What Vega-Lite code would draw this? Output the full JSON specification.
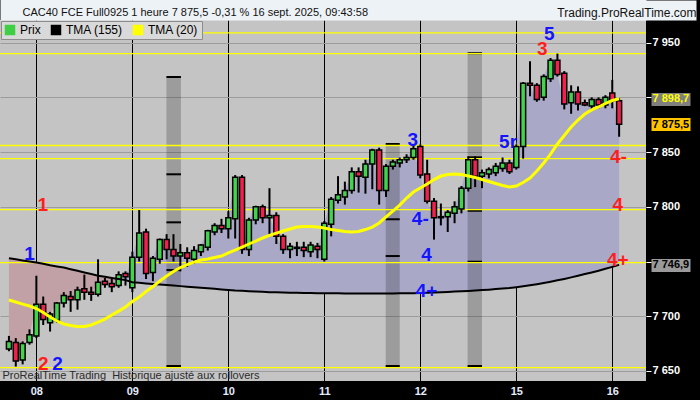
{
  "$schema": "https://vega.github.io/schema/vega-lite/v6.json",
  "width": 646,
  "height": 361,
  "autosize": {"type": "none"},
  "padding": {"left": 0, "top": 20, "right": 54, "bottom": 19},
  "background": "#000000",
  "resolve": {"axis": {"x": "independent"}},
  "config": {
    "view": {"fill": "#c4c4c4", "stroke": null},
    "axis": {"labelFont": "Liberation Sans", "titleFont": "Liberation Sans"}
  },
  "datasets": {
    "k": [
      {"i":0,"o":7670,"h":7682,"l":7668,"c":7677,"m155":7753,"m20":7714.8},
      {"i":1,"o":7676,"h":7680,"l":7654,"c":7659,"m155":7752,"m20":7713},
      {"i":2,"o":7660,"h":7677,"l":7656,"c":7675,"m155":7751,"m20":7711.1},
      {"i":3,"o":7676,"h":7688,"l":7674,"c":7683,"m155":7750,"m20":7709.3},
      {"i":4,"o":7682,"h":7737,"l":7680,"c":7711,"m155":7749,"m20":7707},
      {"i":5,"o":7711,"h":7718,"l":7692,"c":7697,"m155":7748,"m20":7703.4},
      {"i":6,"o":7694,"h":7704,"l":7686,"c":7702,"m155":7746.5,"m20":7699.3},
      {"i":7,"o":7696,"h":7713,"l":7694,"c":7712,"m155":7745.5,"m20":7695.6},
      {"i":8,"o":7712,"h":7722,"l":7708,"c":7719,"m155":7744.5,"m20":7692.9},
      {"i":9,"o":7718,"h":7723,"l":7704,"c":7715,"m155":7743,"m20":7691.5},
      {"i":10,"o":7715,"h":7727,"l":7706,"c":7724,"m155":7741.5,"m20":7690.6},
      {"i":11,"o":7725,"h":7738,"l":7715,"c":7722,"m155":7740,"m20":7690.6},
      {"i":12,"o":7722,"h":7727,"l":7714,"c":7720,"m155":7738.5,"m20":7692},
      {"i":13,"o":7720,"h":7752,"l":7718,"c":7731,"m155":7737,"m20":7694.7},
      {"i":14,"o":7732,"h":7735,"l":7726,"c":7729,"m155":7736,"m20":7697.4},
      {"i":15,"o":7730,"h":7734,"l":7722,"c":7727,"m155":7735,"m20":7701.1},
      {"i":16,"o":7728,"h":7741,"l":7726,"c":7738,"m155":7734,"m20":7704.7},
      {"i":17,"o":7739,"h":7741,"l":7728,"c":7736,"m155":7733,"m20":7708.4},
      {"i":18,"o":7726,"h":7759,"l":7722,"c":7754,"m155":7731,"m20":7713.4},
      {"i":19,"o":7754,"h":7797,"l":7750,"c":7776,"m155":7730.5,"m20":7717.5},
      {"i":20,"o":7777,"h":7780,"l":7734,"c":7739,"m155":7730,"m20":7722.6},
      {"i":21,"o":7740,"h":7755,"l":7732,"c":7753,"m155":7729.5,"m20":7727.1},
      {"i":22,"o":7752,"h":7771,"l":7748,"c":7770,"m155":7729,"m20":7732.2},
      {"i":23,"o":7770,"h":7775,"l":7752,"c":7761,"m155":7728.5,"m20":7736.7},
      {"i":24,"o":7761,"h":7775,"l":7750,"c":7755,"m155":7728,"m20":7740.9},
      {"i":25,"o":7755,"h":7766,"l":7741,"c":7758,"m155":7727.5,"m20":7744.5},
      {"i":26,"o":7758,"h":7763,"l":7745,"c":7753,"m155":7727,"m20":7747.2},
      {"i":27,"o":7752,"h":7764,"l":7748,"c":7760,"m155":7726.5,"m20":7749.5},
      {"i":28,"o":7759,"h":7766,"l":7755,"c":7765,"m155":7726,"m20":7751.4},
      {"i":29,"o":7763,"h":7779,"l":7760,"c":7778,"m155":7725.5,"m20":7752.3},
      {"i":30,"o":7777,"h":7785,"l":7774,"c":7783,"m155":7725,"m20":7753.6},
      {"i":31,"o":7783,"h":7789,"l":7776,"c":7780,"m155":7724.5,"m20":7755},
      {"i":32,"o":7780,"h":7796,"l":7771,"c":7790,"m155":7724,"m20":7757.8},
      {"i":33,"o":7789,"h":7829,"l":7771,"c":7827,"m155":7723.5,"m20":7760.5},
      {"i":34,"o":7827,"h":7829,"l":7757,"c":7761,"m155":7723.2,"m20":7763.2},
      {"i":35,"o":7761,"h":7790,"l":7755,"c":7788,"m155":7722.9,"m20":7766},
      {"i":36,"o":7788,"h":7801,"l":7784,"c":7800,"m155":7722.6,"m20":7768.7},
      {"i":37,"o":7800,"h":7802,"l":7785,"c":7790,"m155":7722.3,"m20":7771.5},
      {"i":38,"o":7790,"h":7817,"l":7775,"c":7792,"m155":7722,"m20":7773.8},
      {"i":39,"o":7792,"h":7795,"l":7766,"c":7773,"m155":7721.8,"m20":7776},
      {"i":40,"o":7773,"h":7775,"l":7757,"c":7761,"m155":7721.6,"m20":7777.9},
      {"i":41,"o":7761,"h":7767,"l":7753,"c":7764,"m155":7721.5,"m20":7779.7},
      {"i":42,"o":7763,"h":7768,"l":7755,"c":7762,"m155":7721.4,"m20":7781.5},
      {"i":43,"o":7763,"h":7768,"l":7754,"c":7760,"m155":7721.3,"m20":7782},
      {"i":44,"o":7759,"h":7768,"l":7754,"c":7765,"m155":7721.2,"m20":7782},
      {"i":45,"o":7764,"h":7767,"l":7753,"c":7761,"m155":7721.1,"m20":7781.5},
      {"i":46,"o":7752,"h":7787,"l":7750,"c":7785,"m155":7721,"m20":7780.6},
      {"i":47,"o":7784,"h":7809,"l":7773,"c":7807,"m155":7721,"m20":7779.2},
      {"i":48,"o":7806,"h":7828,"l":7803,"c":7811,"m155":7720.9,"m20":7778.3},
      {"i":49,"o":7809,"h":7823,"l":7802,"c":7815,"m155":7720.8,"m20":7777.4},
      {"i":50,"o":7815,"h":7836,"l":7812,"c":7832,"m155":7720.8,"m20":7776.9},
      {"i":51,"o":7832,"h":7836,"l":7813,"c":7828,"m155":7720.7,"m20":7777.4},
      {"i":52,"o":7827,"h":7843,"l":7812,"c":7839,"m155":7720.7,"m20":7779.2},
      {"i":53,"o":7839,"h":7853,"l":7816,"c":7852,"m155":7720.7,"m20":7781.5},
      {"i":54,"o":7852,"h":7854,"l":7802,"c":7815,"m155":7720.7,"m20":7785.2},
      {"i":55,"o":7815,"h":7839,"l":7809,"c":7837,"m155":7720.8,"m20":7790.7},
      {"i":56,"o":7837,"h":7843,"l":7834,"c":7841,"m155":7720.8,"m20":7796.1},
      {"i":57,"o":7840,"h":7845,"l":7836,"c":7843,"m155":7720.9,"m20":7801.6},
      {"i":58,"o":7843,"h":7848,"l":7840,"c":7845,"m155":7721,"m20":7808},
      {"i":59,"o":7845,"h":7856,"l":7843,"c":7853,"m155":7721.1,"m20":7813.5},
      {"i":60,"o":7855,"h":7857,"l":7826,"c":7829,"m155":7721.2,"m20":7817.2},
      {"i":61,"o":7830,"h":7843,"l":7803,"c":7805,"m155":7721.4,"m20":7820.8},
      {"i":62,"o":7805,"h":7808,"l":7770,"c":7790,"m155":7721.6,"m20":7824.9},
      {"i":63,"o":7790,"h":7803,"l":7783,"c":7791,"m155":7721.9,"m20":7828.1},
      {"i":64,"o":7791,"h":7797,"l":7777,"c":7795,"m155":7722.2,"m20":7829.5},
      {"i":65,"o":7794,"h":7805,"l":7785,"c":7800,"m155":7722.5,"m20":7830},
      {"i":66,"o":7798,"h":7819,"l":7794,"c":7817,"m155":7722.8,"m20":7829.5},
      {"i":67,"o":7817,"h":7846,"l":7814,"c":7843,"m155":7723.1,"m20":7828.1},
      {"i":68,"o":7843,"h":7846,"l":7818,"c":7828,"m155":7723.5,"m20":7826.8},
      {"i":69,"o":7828,"h":7834,"l":7817,"c":7831,"m155":7723.9,"m20":7824.9},
      {"i":70,"o":7830,"h":7836,"l":7826,"c":7834,"m155":7724.3,"m20":7823.1},
      {"i":71,"o":7831,"h":7840,"l":7828,"c":7837,"m155":7724.8,"m20":7821.3},
      {"i":72,"o":7835,"h":7845,"l":7832,"c":7840,"m155":7725.3,"m20":7819.5},
      {"i":73,"o":7840,"h":7843,"l":7830,"c":7832,"m155":7725.8,"m20":7818.1},
      {"i":74,"o":7836,"h":7857,"l":7834,"c":7855,"m155":7726.5,"m20":7819},
      {"i":75,"o":7855,"h":7914,"l":7844,"c":7913,"m155":7727.3,"m20":7822.2},
      {"i":76,"o":7913,"h":7933,"l":7901,"c":7911,"m155":7728.2,"m20":7826.3},
      {"i":77,"o":7911,"h":7913,"l":7896,"c":7898,"m155":7729.2,"m20":7832.7},
      {"i":78,"o":7900,"h":7921,"l":7897,"c":7919,"m155":7730.3,"m20":7840},
      {"i":79,"o":7917,"h":7936,"l":7914,"c":7934,"m155":7731.5,"m20":7848.2},
      {"i":80,"o":7934,"h":7940,"l":7919,"c":7921,"m155":7732.8,"m20":7857.4},
      {"i":81,"o":7922,"h":7924,"l":7889,"c":7894,"m155":7734.1,"m20":7865.2},
      {"i":82,"o":7895,"h":7911,"l":7885,"c":7905,"m155":7735.5,"m20":7872.9},
      {"i":83,"o":7905,"h":7910,"l":7888,"c":7894,"m155":7737,"m20":7879.3},
      {"i":84,"o":7895,"h":7898,"l":7892,"c":7893,"m155":7738.5,"m20":7884.8},
      {"i":85,"o":7892,"h":7900,"l":7888,"c":7898,"m155":7740,"m20":7888.5},
      {"i":86,"o":7898,"h":7900,"l":7890,"c":7893,"m155":7741.6,"m20":7891.2},
      {"i":87,"o":7893,"h":7902,"l":7890,"c":7900,"m155":7743.3,"m20":7894.4},
      {"i":88,"o":7904,"h":7916,"l":7890,"c":7897,"m155":7745.1,"m20":7897.1},
      {"i":89,"o":7897,"h":7899,"l":7864,"c":7875.5,"m155":7746.9,"m20":7898.7}
    ],
    "bands": [
      {"x1":22.97,"x2":25.09,"top":7918.6,"bot":7653.3},
      {"x1":54.95,"x2":57.0,"top":7857.4,"bot":7653.3},
      {"x1":66.9,"x2":69.0,"top":7940.3,"bot":7653.3}
    ],
    "bt": [
      {"x1":22.97,"x2":25.09,"lv":7918.6},
      {"x1":22.97,"x2":25.09,"lv":7829.7},
      {"x1":22.97,"x2":25.09,"lv":7785.8},
      {"x1":22.97,"x2":25.09,"lv":7742.2},
      {"x1":22.97,"x2":25.09,"lv":7654.5},
      {"x1":54.95,"x2":57.0,"lv":7857.4},
      {"x1":54.95,"x2":57.0,"lv":7788.6},
      {"x1":54.95,"x2":57.0,"lv":7755},
      {"x1":54.95,"x2":57.0,"lv":7654.5},
      {"x1":66.9,"x2":69.0,"lv":7940.3},
      {"x1":66.9,"x2":69.0,"lv":7845.2},
      {"x1":66.9,"x2":69.0,"lv":7796.4},
      {"x1":66.9,"x2":69.0,"lv":7749.8},
      {"x1":66.9,"x2":69.0,"lv":7654.5}
    ],
    "lv": [
      {"p":7959},{"p":7940},{"p":7856},{"p":7844},{"p":7797.5},{"p":7749},{"p":7653}
    ],
    "w": [
      {"i":4.95,"p":7802,"t":"1","g":"r"},
      {"i":3.0,"p":7757,"t":"1","g":"b"},
      {"i":5.0,"p":7656.3,"t":"2","g":"r"},
      {"i":7.1,"p":7656.3,"t":"2","g":"b"},
      {"i":58.9,"p":7860.6,"t":"3","g":"b"},
      {"i":60.0,"p":7788.8,"t":"4-","g":"b"},
      {"i":60.9,"p":7755.5,"t":"4","g":"b"},
      {"i":60.9,"p":7723,"t":"4+","g":"b"},
      {"i":72.8,"p":7859.5,"t":"5r","g":"b"},
      {"i":77.8,"p":7944.4,"t":"3","g":"r"},
      {"i":78.8,"p":7958.2,"t":"5","g":"b"},
      {"i":88.9,"p":7845.3,"t":"4-","g":"r"},
      {"i":88.8,"p":7801.2,"t":"4","g":"r"},
      {"i":88.8,"p":7751.4,"t":"4+","g":"r"}
    ]
  },
  "layer": [
    {
      "data": {"name": "k"},
      "transform": [{"filter": "datum.i <= 16"}],
      "mark": {"type": "area", "color": "#c2a1a6"},
      "encoding": {
        "x": {"field": "i", "type": "quantitative", "scale": {"domain": [-0.574, 92.19], "nice": false, "zero": false},
          "title": "ProRealTime Trading\u00a0 Historique ajusté aux rollovers",
          "axis": {
            "orient": "bottom",
            "values": [4, 18, 32, 46, 60, 74, 88],
            "labelExpr": "datum.value == 4 ? '08' : datum.value == 18 ? '09' : datum.value == 32 ? '10' : datum.value == 46 ? '11' : datum.value == 60 ? '12' : datum.value == 74 ? '15' : '16'",
            "grid": true, "gridColor": "#000000", "gridWidth": 1,
            "domain": false, "ticks": false, "tickSize": 0,
            "labelColor": "#e4ecff", "labelFontSize": 11, "labelFontWeight": "bold", "labelPadding": 10, "labelBaseline": "middle",
            "labelFlush": false, "labelOverlap": false, "labelBound": false,
            "titleX": 2, "titleY": -5.5, "titleAlign": "left", "titleAnchor": "start", "titleBaseline": "middle",
            "titleFontSize": 11, "titleFontWeight": "normal", "titleColor": "#2b2b2b"
          }
        },
        "y": {"field": "c", "type": "quantitative", "scale": {"domain": [7640.8, 7970.7], "nice": false, "zero": false},
          "title": "Trading.ProRealTime.com",
          "axis": {
            "orient": "right",
            "values": [7650, 7700, 7750, 7800, 7850, 7900, 7950, 7898.7, 7875.5, 7746.9],
            "labelExpr": "datum.value == 7898.7 ? '7 898,7' : datum.value == 7875.5 ? '7 875,5' : datum.value == 7746.9 ? '7 746,9' : (datum.value == 7900 || datum.value == 7750) ? '' : replace(format(datum.value, ','), ',', ' ')",
            "grid": true, "gridColor": "#9c9c9c",
            "gridOpacity": {"condition": {"test": "datum.value % 50 != 0", "value": 0}, "value": 1},
            "domain": false,
            "tickSize": 44, "tickCap": "butt",
            "tickColor": {"condition": [{"test": "datum.value == 7898.7", "value": "#808080"}, {"test": "datum.value == 7875.5", "value": "#ffc400"}, {"test": "datum.value == 7746.9", "value": "#9a9a9a"}], "value": "#ffffff"},
            "tickWidth": {"condition": {"test": "datum.value % 50 != 0", "value": 13}, "value": 1},
            "tickDash": {"condition": {"test": "datum.value % 50 != 0", "value": [0, 5, 39, 100]}, "value": [5, 100]},
            "labelPadding": -38, "labelAlign": "left", "labelBaseline": "middle",
            "labelColor": {"condition": [{"test": "datum.value == 7898.7", "value": "#ffff00"}, {"test": "datum.value % 50 != 0", "value": "#000000"}], "value": "#ffffff"},
            "labelFontSize": 11, "labelFontWeight": "bold", "labelOverlap": false, "labelBound": false, "labelFlush": false,
            "titleAngle": 0, "titleX": 50, "titleY": -4, "titleAlign": "right", "titleBaseline": "alphabetic",
            "titleFontSize": 12, "titleFontWeight": "normal", "titleColor": "#111111"
          }
        },
        "y2": {"field": "m155"}
      }
    },
    {
      "data": {"name": "k"},
      "transform": [{"filter": "datum.i >= 16"}],
      "mark": {"type": "area", "color": "#a9a9c7"},
      "encoding": {
        "x": {"field": "i", "type": "quantitative", "scale": {"domain": [-0.574, 92.19], "nice": false, "zero": false}, "axis": null},
        "y": {"field": "c", "type": "quantitative", "scale": {"domain": [7640.8, 7970.7], "nice": false, "zero": false}, "title": "Trading.ProRealTime.com"},
        "y2": {"field": "m155"}
      }
    },
    {
      "data": {"name": "bands"},
      "mark": {"type": "rect", "color": "#000000", "opacity": 0.2},
      "encoding": {
        "x": {"field": "x1", "type": "quantitative", "scale": {"domain": [-0.574, 92.19], "nice": false, "zero": false}, "axis": null},
        "x2": {"field": "x2"},
        "y": {"field": "top", "type": "quantitative", "scale": {"domain": [7640.8, 7970.7], "nice": false, "zero": false}, "title": "Trading.ProRealTime.com"},
        "y2": {"field": "bot"}
      }
    },
    {
      "data": {"name": "bt"},
      "mark": {"type": "rule", "color": "#000000", "strokeWidth": 2},
      "encoding": {
        "x": {"field": "x1", "type": "quantitative", "scale": {"domain": [-0.574, 92.19], "nice": false, "zero": false}, "axis": null},
        "x2": {"field": "x2"},
        "y": {"field": "lv", "type": "quantitative", "scale": {"domain": [7640.8, 7970.7], "nice": false, "zero": false}, "title": "Trading.ProRealTime.com"}
      }
    },
    {
      "data": {"name": "lv"},
      "mark": {"type": "rule", "color": "#ffff00", "strokeWidth": 1.3},
      "encoding": {
        "y": {"field": "p", "type": "quantitative", "scale": {"domain": [7640.8, 7970.7], "nice": false, "zero": false}, "title": "Trading.ProRealTime.com"}
      }
    },
    {
      "data": {"name": "k"},
      "mark": {"type": "rule", "color": "#000000", "strokeWidth": 2},
      "encoding": {
        "x": {"field": "i", "type": "quantitative", "scale": {"domain": [-0.574, 92.19], "nice": false, "zero": false}, "axis": null},
        "y": {"field": "l", "type": "quantitative", "scale": {"domain": [7640.8, 7970.7], "nice": false, "zero": false}, "title": "Trading.ProRealTime.com"},
        "y2": {"field": "h"}
      }
    },
    {
      "data": {"name": "k"},
      "mark": {"type": "bar", "size": 5, "stroke": "#000000", "strokeWidth": 1.5},
      "encoding": {
        "x": {"field": "i", "type": "quantitative", "scale": {"domain": [-0.574, 92.19], "nice": false, "zero": false}, "axis": null},
        "y": {"field": "o", "type": "quantitative", "scale": {"domain": [7640.8, 7970.7], "nice": false, "zero": false}, "title": "Trading.ProRealTime.com"},
        "y2": {"field": "c"},
        "fill": {"condition": {"test": "datum.c >= datum.o", "value": "#42d24c"}, "value": "#f2204f"}
      }
    },
    {
      "data": {"name": "k"},
      "mark": {"type": "line", "strokeWidth": 2},
      "encoding": {
        "x": {"field": "i", "type": "quantitative", "scale": {"domain": [-0.574, 92.19], "nice": false, "zero": false}, "axis": null},
        "y": {"field": "m155", "type": "quantitative", "scale": {"domain": [7640.8, 7970.7], "nice": false, "zero": false}, "title": "Trading.ProRealTime.com"},
        "color": {"datum": "TMA (155)", "type": "nominal",
          "scale": {"domain": ["Prix", "TMA (155)", "TMA (20)"], "range": ["#3fcf45", "#000000", "#ffff00"]},
          "legend": {"title": null, "orient": "top-left", "offset": 1, "direction": "horizontal",
            "fillColor": "#d9d9d9", "strokeColor": "#8c8c8c", "padding": 3,
            "symbolType": "square", "symbolSize": 110, "symbolStrokeWidth": 0,
            "labelFont": "Liberation Sans", "labelFontSize": 12, "labelColor": "#000000",
            "columnPadding": 9, "labelOffset": 4,
            "encode": {"symbols": {"update": {"fill": {"scale": "color", "field": "value"}, "opacity": {"value": 1}}}}
          }
        }
      }
    },
    {
      "data": {"name": "k"},
      "mark": {"type": "line", "strokeWidth": 3},
      "encoding": {
        "x": {"field": "i", "type": "quantitative", "scale": {"domain": [-0.574, 92.19], "nice": false, "zero": false}, "axis": null},
        "y": {"field": "m20", "type": "quantitative", "scale": {"domain": [7640.8, 7970.7], "nice": false, "zero": false}, "title": "Trading.ProRealTime.com"},
        "color": {"datum": "TMA (20)", "type": "nominal"}
      }
    },
    {
      "data": {"name": "w"},
      "mark": {"type": "text", "font": "Liberation Sans", "fontSize": 19, "fontWeight": "bold", "align": "center", "baseline": "middle"},
      "encoding": {
        "x": {"field": "i", "type": "quantitative", "scale": {"domain": [-0.574, 92.19], "nice": false, "zero": false},
          "title": "CAC40 FCE Full0925 1 heure 7 875,5 -0,31 % 16 sept. 2025, 09:43:58",
          "axis": {
            "orient": "top", "offset": 20,
            "values": [92],
            "domain": true, "domainColor": "#edf2f6", "domainWidth": 40, "domainCap": "butt",
            "ticks": true, "tickColor": "#edf2f6", "tickWidth": 112, "tickSize": -20, "tickCap": "butt",
            "labels": false, "grid": false,
            "titleX": 22, "titleY": 15, "titleAlign": "left", "titleAnchor": "start", "titleBaseline": "alphabetic",
            "titleFontSize": 11, "titleFontWeight": "normal", "titleColor": "#111111"
          }
        },
        "y": {"field": "p", "type": "quantitative", "scale": {"domain": [7640.8, 7970.7], "nice": false, "zero": false}, "title": "Trading.ProRealTime.com"},
        "text": {"field": "t"},
        "fill": {"field": "g", "type": "nominal", "scale": {"domain": ["r", "b"], "range": ["#ff1e1e", "#1414ff"]}, "legend": null}
      }
    }
  ]
}
